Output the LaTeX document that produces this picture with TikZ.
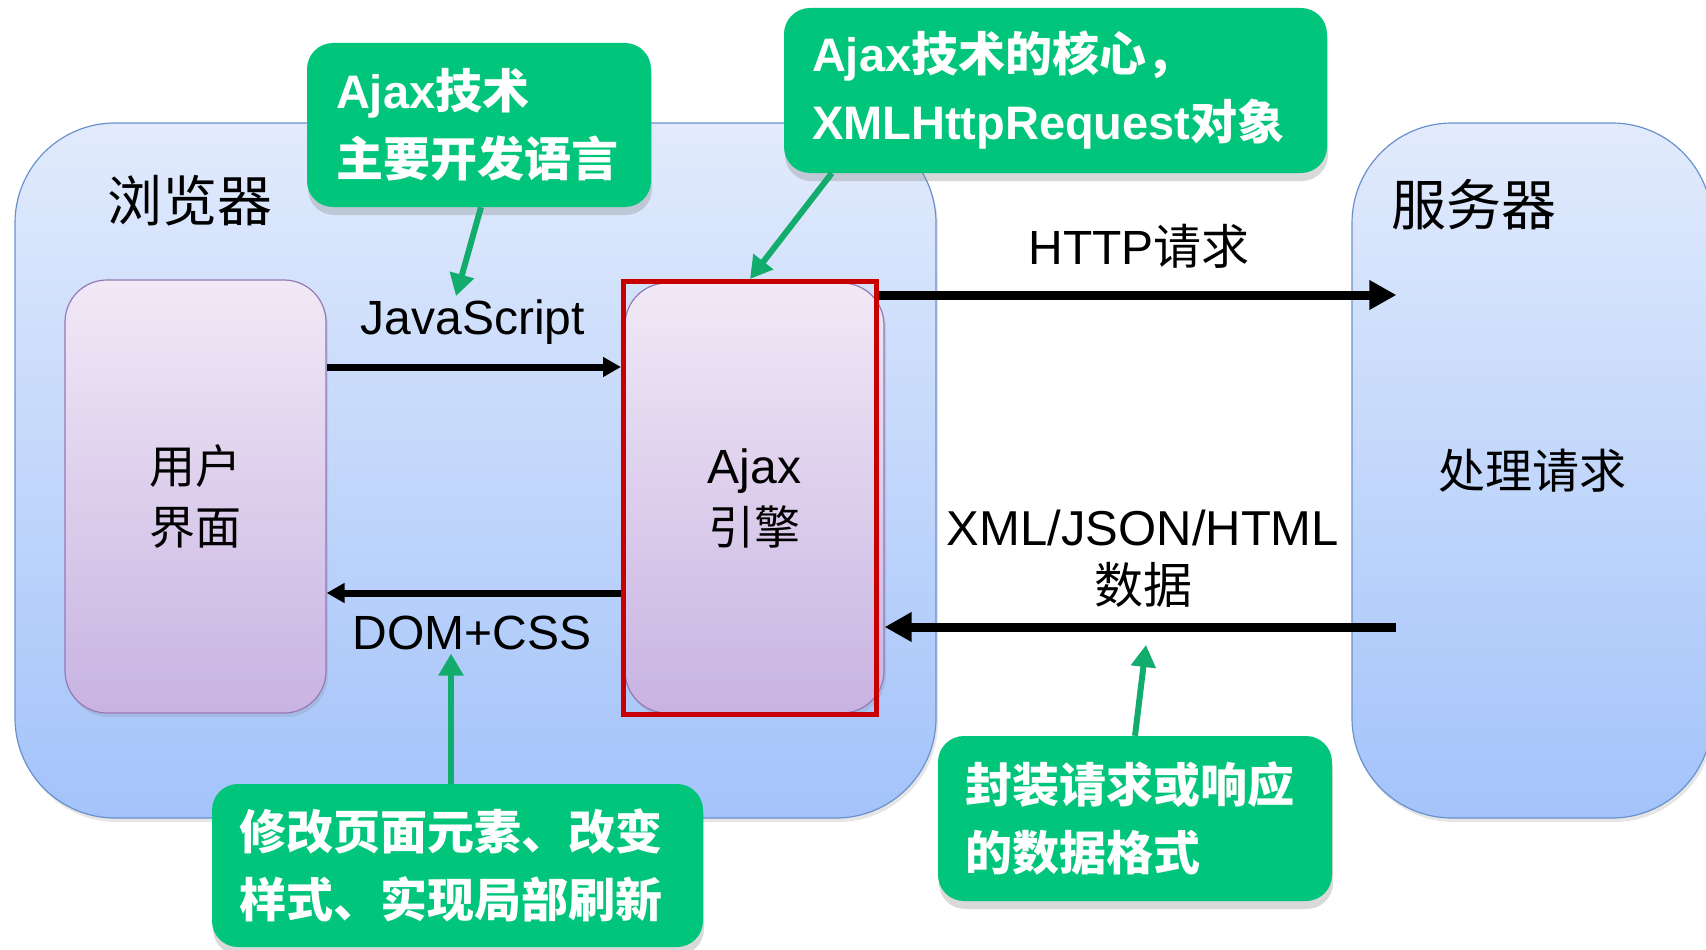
\documentclass[tikz,border=0pt]{standalone}
\usepackage{fontspec}
\setmainfont{Noto Sans CJK SC}
\newfontfamily\lat{Liberation Sans}
\usepackage{xcolor}
\usetikzlibrary{arrows.meta}
\usetikzlibrary{shadows}
\usetikzlibrary{positioning}
\definecolor{paneltop}{RGB}{226,235,252}
\definecolor{panelbot}{RGB}{163,195,250}
\definecolor{panelline}{RGB}{105,145,205}
\definecolor{parttop}{RGB}{241,233,246}
\definecolor{partbot}{RGB}{200,179,226}
\definecolor{partline}{RGB}{150,120,180}
\definecolor{tipgreen}{RGB}{0,197,122}
\definecolor{arrgreen}{RGB}{18,172,108}
\definecolor{framered}{RGB}{200,0,0}
\newcommand\eng[1]{{\lat #1}}
\tikzstyle{panel}=[draw=panelline,line width=1.2pt,rounded corners=100pt,top color=paneltop,bottom color=panelbot,drop shadow={opacity=.2,shadow xshift=2pt,shadow yshift=-4pt}]
\tikzstyle{part}=[draw=partline,line width=1.2pt,rounded corners=42pt,top color=parttop,bottom color=partbot,align=center,font=\fontsize{46}{61}\selectfont,drop shadow={opacity=.2,shadow xshift=2pt,shadow yshift=-4pt}]
\tikzstyle{frame}=[draw=framered,line width=5pt,inner sep=0pt]
\tikzstyle{title}=[font=\fontsize{55}{60}\selectfont]
\tikzstyle{lbl}=[font=\fontsize{48}{58}\selectfont,align=center]
\tikzstyle{callout}=[fill=tipgreen,rounded corners=26pt,inner sep=0pt,align=left,text=white,font=\bfseries\fontsize{47}{68}\selectfont,drop shadow={opacity=.3,shadow xshift=1pt,shadow yshift=-8pt}]
\tikzstyle{flow}=[line width=7pt,-{Triangle[length=18pt,width=19pt]}]
\tikzstyle{bigflow}=[line width=9pt,-{Triangle[length=27pt,width=28pt]}]
\tikzstyle{callarr}=[draw=arrgreen,line width=6pt,-{Triangle[length=22pt,width=24pt]}]

\begin{document}
\begin{tikzpicture}[x=1pt,y=-1pt]
	\useasboundingbox (0,0) rectangle (1706,950);
	\clip (0,0) rectangle (1706,950);
	
	% PANELS
	\node[panel,minimum width=921,minimum height=695] (browser) at (475.5,470.5) {};
	\node[panel,minimum width=360,minimum height=695] (server) at (1532,470.5) {\fontsize{47}{50}\selectfont 处理请求};
	\node[title] (browserlbl) at (190,201) {浏览器};
	\node[title] (serverlbl) at (1474,205) {服务器};
	
	% BOXES
	\node[part,minimum width=261,minimum height=433] (ui) at (195.5,496.5) {用户\\界面};
	\node[part,minimum width=259,minimum height=430] (ajax) at (754.5,498) {\eng{\fontsize{48}{61}\selectfont Ajax}\\引擎};
	\node[frame,minimum width=253,minimum height=433] (ajaxframe) at (750,498) {};
	
	% LABELS
	\node[lbl] (jslbl) at (473,322) {\eng{JavaScript}};
	\node[lbl] (domlbl) at (472,633) {\eng{DOM+CSS}};
	\node[lbl] (httplbl) at (1139,246) {\eng{HTTP}请求};
	\node[lbl,font=\fontsize{49}{58}\selectfont] (xmllbl) at (1143,559) {\eng{XML/JSON/HTML}\\数据};
	
	% ARROWS
	\coordinate (jsA) at ([yshift=129.5pt]ui.east);
	\draw[flow] (jsA) -- (jsA -| ajaxframe.west);
	\coordinate (domA) at ([yshift=-95pt]ajaxframe.west);
	\draw[flow] (domA) -- (domA -| ui.east);
	\coordinate (httpA) at ([yshift=203pt]ajaxframe.east);
	\coordinate (httpB) at ([xshift=45pt]server.west);
	\draw[bigflow] (httpA) -- (httpA -| httpB);
	\coordinate (xmlA) at ([yshift=-156.5pt]httpB);
	\draw[bigflow] (xmlA) -- (xmlA -| ajax.east);
	
	% CALLOUTS
	\node[callout,minimum width=344,minimum height=164,text width=286] (c1) at (479,125) {\eng{Ajax}技术\\主要开发语言};
	\node[callout,minimum width=543,minimum height=165,text width=487] (c2) at (1055.5,90.5) {\eng{Ajax}技术的核心，\\\eng{XMLHttpRequest}对象};
	\node[callout,minimum width=491,minimum height=163,text width=437] (c3) at (457.5,865.5) {修改页面元素、改变\\样式、实现局部刷新};
	\node[callout,minimum width=394,minimum height=165,text width=340] (c4) at (1135,818.5) {封装请求或响应\\的数据格式};
	
	\draw[callarr] ([xshift=2pt]c1.south) -- ([xshift=-17pt]jslbl.north);
	\draw[callarr] ([xshift=48pt]c2.south west) -- (ajaxframe.north);
	\coordinate (c3top) at ([xshift=-6.5pt]c3.north);
	\draw[callarr] (c3top) -- (c3top |- domlbl.south);
	\coordinate (c4tip) at (1146,645);
	\draw[callarr] (c4.north) -- (c4tip);
\end{tikzpicture}
\end{document}
